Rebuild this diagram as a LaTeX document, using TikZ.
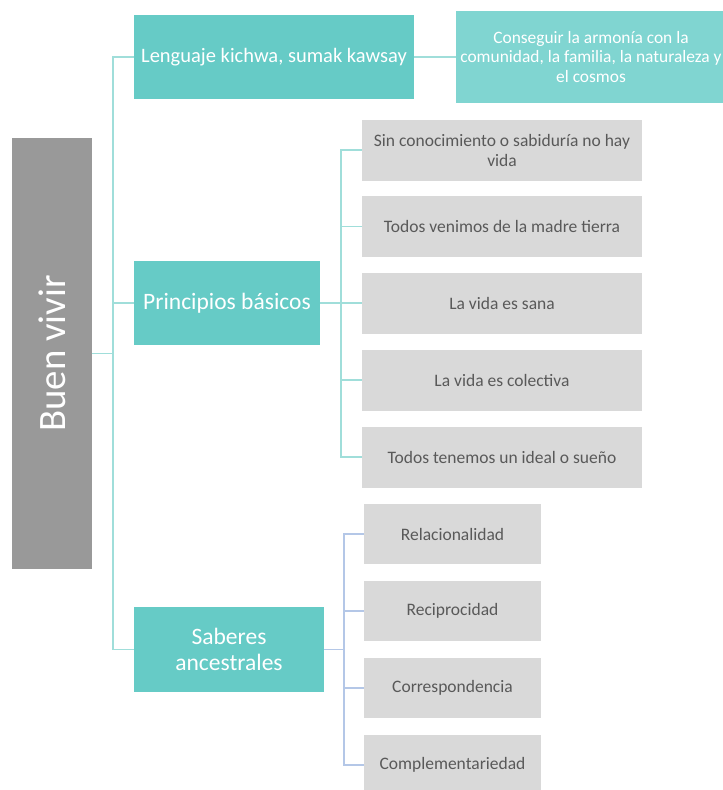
\documentclass[tikz,border=0pt]{standalone}
\usepackage{fontspec}
\setmainfont{Carlito}
\definecolor{teal1}{RGB}{102,203,198}
\definecolor{teal2}{RGB}{128,213,209}
\definecolor{darkbox}{RGB}{153,153,153}
\definecolor{lightbox}{RGB}{217,217,217}
\definecolor{txtgray}{RGB}{89,89,89}
\definecolor{connteal}{RGB}{160,222,218}
\definecolor{connblue}{RGB}{180,199,231}
\begin{document}
\begin{tikzpicture}[x=1pt,y=-1pt,
  box/.style={rectangle,inner sep=2pt,align=center,anchor=center},
  mainbox/.style={box,fill=teal1,text=white,font=\fontsize{23.5}{26}\selectfont},
  subbox/.style={box,fill=lightbox,text=txtgray,font=\fontsize{17.5}{20}\selectfont},
  conn/.style={draw=connteal,line width=1.5pt},
  connb/.style={draw=connblue,line width=1.5pt}]
\useasboundingbox (0,0) rectangle (723,790);
\clip (0,0) rectangle (723,790);

\node[box,fill=darkbox,minimum width=431pt,minimum height=80pt,rotate=90,text=white,font=\fontsize{38.8}{44}\selectfont] (bv) at (52,353.5) {Buen vivir};

\node[mainbox,minimum width=280pt,minimum height=84pt,font=\fontsize{20.5}{24}\selectfont] (len) at (274,57) {Lenguaje kichwa, sumak kawsay};
\node[box,fill=teal2,text=white,minimum width=270pt,minimum height=92pt,font=\fontsize{17.4}{19.5}\selectfont] (con) at (591,57) {Conseguir la armonía con la\\comunidad, la familia, la naturaleza y\\el cosmos};
\node[mainbox,minimum width=186pt,minimum height=84pt] (pri) at (227,303) {Principios básicos};
\node[mainbox,minimum width=190pt,minimum height=85pt] (sab) at (229,649.5) {Saberes\\ancestrales};

\node[subbox,minimum width=280pt,minimum height=61pt] (p1) at (502,150) {Sin conocimiento o sabiduría no hay\\vida};
\node[subbox,minimum width=280pt,minimum height=61pt] (p2) at (502,226.5) {Todos venimos de la madre tierra};
\node[subbox,minimum width=280pt,minimum height=61pt] (p3) at (502,303) {La vida es sana};
\node[subbox,minimum width=280pt,minimum height=61pt] (p4) at (502,380) {La vida es colectiva};
\node[subbox,minimum width=280pt,minimum height=61pt] (p5) at (502,457) {Todos tenemos un ideal o sueño};

\node[subbox,minimum width=177pt,minimum height=60pt] (s1) at (452.5,534) {Relacionalidad};
\node[subbox,minimum width=177pt,minimum height=60pt] (s2) at (452.5,611) {Reciprocidad};
\node[subbox,minimum width=177pt,minimum height=60pt] (s3) at (452.5,688) {Correspondencia};
\node[subbox,minimum width=177pt,minimum height=60pt] (s4) at (452.5,765) {Complementariedad};

\coordinate (busA) at (113,353.5);
\draw[conn] (bv.south) -- (busA);
\draw[conn] (busA) |- (len.west);
\draw[conn] (busA) |- (pri.west);
\draw[conn] (busA) |- (sab.west);
\draw[conn] (len.east) -- (con.west);

\draw[conn] (pri.east) -- ++(21,0) coordinate (busB);
\foreach \n in {p1,p2,p3,p4,p5} \draw[conn] (busB) |- (\n.west);

\draw[connb] (sab.east) -- ++(20,0) coordinate (busC);
\foreach \n in {s1,s2,s3,s4} \draw[connb] (busC) |- (\n.west);
\end{tikzpicture}
\end{document}
